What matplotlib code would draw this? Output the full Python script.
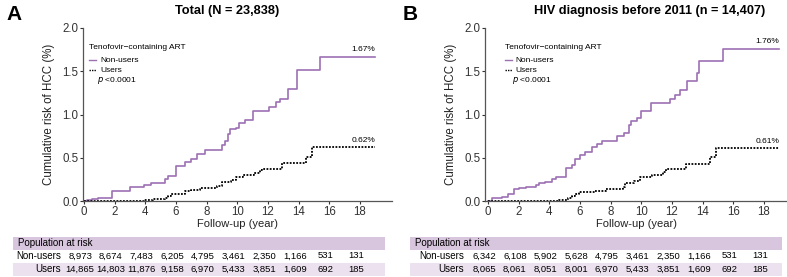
import numpy as np
import matplotlib.pyplot as plt

# ---- data ----
years_ticks = [0, 2, 4, 6, 8, 10, 12, 14, 16, 18]

# panel A: Total (N = 23,838)
a_non_t = [0, 0.17, 0.5, 0.9, 1.37, 1.8, 2.3, 3.0, 3.9, 4.4, 5.3, 5.5, 6.0, 6.6, 7.0, 7.4, 7.9, 9.0,
           9.2, 9.4, 9.5, 9.9, 10.1, 10.5, 11.0, 12.1, 12.5, 12.8, 13.3, 13.9, 15.4, 19.0]
a_non_y = [0, 0.01, 0.02, 0.03, 0.035, 0.11, 0.12, 0.165, 0.18, 0.21, 0.26, 0.29, 0.40, 0.45, 0.49, 0.54,
           0.59, 0.65, 0.69, 0.78, 0.83, 0.84, 0.90, 0.94, 1.04, 1.09, 1.14, 1.18, 1.29, 1.52, 1.67, 1.67]
a_use_t = [0, 2.0, 2.9, 3.9, 4.5, 5.3, 5.5, 5.7, 6.6, 7.0, 7.6, 8.7, 9.0, 9.6, 9.9, 10.4, 11.1, 11.5,
           11.6, 12.9, 14.5, 14.9, 19.0]
a_use_y = [0, 0.0, 0.005, 0.01, 0.02, 0.04, 0.06, 0.08, 0.11, 0.13, 0.15, 0.17, 0.22, 0.24, 0.28, 0.30,
           0.32, 0.36, 0.37, 0.44, 0.51, 0.62, 0.62]

# panel B: HIV diagnosis before 2011 (n = 14,407)
b_non_t = [0, 0.24, 0.9, 1.33, 1.7, 2.0, 2.5, 3.1, 3.3, 3.7, 4.2, 4.4, 5.1, 5.5, 5.7, 6.0, 6.3, 6.8, 7.1,
           7.4, 8.4, 8.85, 9.2, 9.3, 9.7, 10.0, 10.6, 11.9, 12.2, 12.5, 13.0, 13.6, 13.75, 15.3, 19.0]
b_non_y = [0, 0.03, 0.05, 0.08, 0.135, 0.15, 0.16, 0.18, 0.21, 0.22, 0.25, 0.28, 0.38, 0.42, 0.49, 0.53,
           0.57, 0.63, 0.66, 0.69, 0.75, 0.79, 0.88, 0.93, 0.96, 1.04, 1.135, 1.18, 1.23, 1.28, 1.39, 1.48,
           1.62, 1.76, 1.76]
b_use_t = [0, 4.2, 4.6, 5.2, 5.5, 5.7, 5.9, 7.0, 7.7, 8.8, 8.9, 9.5, 9.9, 10.7, 11.4, 11.6, 12.9, 14.5,
           14.9, 19.0]
b_use_y = [0, 0.0, 0.01, 0.03, 0.06, 0.08, 0.10, 0.12, 0.14, 0.165, 0.205, 0.235, 0.28, 0.30, 0.34,
           0.37, 0.43, 0.51, 0.61, 0.61]

a_risk_non = ['8,973', '8,674', '7,483', '6,205', '4,795', '3,461', '2,350', '1,166', '531', '131']
a_risk_use = ['14,865', '14,803', '11,876', '9,158', '6,970', '5,433', '3,851', '1,609', '692', '185']
b_risk_non = ['6,342', '6,108', '5,902', '5,628', '4,795', '3,461', '2,350', '1,166', '531', '131']
b_risk_use = ['8,065', '8,061', '8,051', '8,001', '6,970', '5,433', '3,851', '1,609', '692', '185']

purple = '#9d70b3'
gray = '#555555'
W, H = 787, 277


def px(x0, y0, x1, y1):
    # pixel box (top-left origin) -> figure rect
    return [x0 / W, 1 - y1 / H, (x1 - x0) / W, (y1 - y0) / H]


fig = plt.figure(figsize=(7.87, 2.77), dpi=100)
plt.rcParams['font.family'] = ['Liberation Sans', 'DejaVu Sans']
dots = (0, (1, 0.8))


def panel(box, xlim, non_t, non_y, use_t, use_y, non_lab, use_lab, title, letter, letter_x, title_x, lx):
    ax = fig.add_axes(px(*box))
    ax.step(non_t, non_y, where='post', color=purple, lw=1.2)
    ax.step(use_t, use_y, where='post', color='black', lw=1.3, linestyle=dots)
    ax.set_xlim(*xlim)
    ax.set_ylim(0, 2.0)
    ax.set_xticks(years_ticks)
    ax.set_yticks([0, 0.5, 1.0, 1.5, 2.0])
    ax.set_yticklabels(['0.0', '0.5', '1.0', '1.5', '2.0'])
    for s in ['top', 'right']:
        ax.spines[s].set_visible(False)
    for s in ['left', 'bottom']:
        ax.spines[s].set_color(gray)
        ax.spines[s].set_linewidth(0.9)
    ax.tick_params(colors='#333333', labelsize=8.3, length=2, width=0.8, pad=1.5)
    ax.set_xlabel('Follow-up (year)', fontsize=8, color='#222222', labelpad=1)
    ax.set_ylabel('Cumulative risk of HCC (%)', fontsize=8.3, color='#222222', labelpad=5)
    # legend block
    ax.text(lx, 0.89, 'Tenofovir\u2212containing ART', transform=ax.transAxes, fontsize=6, va='center')
    ax.plot([lx, lx + 0.022], [0.815, 0.815], transform=ax.transAxes, color=purple, lw=1)
    ax.text(lx + 0.035, 0.815, 'Non-users', transform=ax.transAxes, fontsize=6, va='center')
    ax.plot([lx, lx + 0.022], [0.757, 0.757], transform=ax.transAxes, color='black', lw=1, linestyle=dots)
    ax.text(lx + 0.035, 0.757, 'Users', transform=ax.transAxes, fontsize=6, va='center')
    ax.text(lx + 0.025, 0.694, r'$p$ <0.0001', transform=ax.transAxes, fontsize=6, va='center')
    ax.text(non_t[-1], non_y[-1] + 0.04, non_lab, fontsize=6, ha='right', va='bottom')
    ax.text(use_t[-1], use_y[-1] + 0.04, use_lab, fontsize=6, ha='right', va='bottom')
    fig.text(title_x / W, 1 - 11 / H, title, fontsize=9.2, fontweight='bold', ha='center', va='center')
    fig.text(letter_x / W, 1 - 15 / H, letter, fontsize=15, fontweight='bold', ha='left', va='center')
    return ax


def risk_table(ax, box, x1, lab_x, non, use):
    x0 = box[0]
    # same year scale as the plot above
    p0 = ax.transData.transform((0, 0))[0]
    p1 = ax.transData.transform((1, 0))[0]
    s = p1 - p0
    tax = fig.add_axes(px(x0, 237, x1, 276))
    tax.set_xlim((x0 - p0) / s, (x1 - p0) / s)
    tax.set_ylim(276, 237)
    tax.axis('off')
    tax.axhspan(237, 249.5, color='#d8c5de', lw=0)
    tax.axhspan(262.5, 276, color='#ece1ef', lw=0)
    tax.text((x0 + 5 - p0) / s, 243.5, 'Population at risk', fontsize=7, va='center', ha='left')
    tax.text((lab_x - p0) / s, 256, 'Non-users', fontsize=7, va='center', ha='right')
    tax.text((lab_x - p0) / s, 269.5, 'Users', fontsize=7, va='center', ha='right')
    for yr, n, u in zip(years_ticks, non, use):
        tax.text(yr - 0.25, 256, n, fontsize=6.8, va='center', ha='center')
        tax.text(yr - 0.25, 269.5, u, fontsize=6.8, va='center', ha='center')


ax_a = panel((83, 28, 392, 201), (-0.065, 20.1), a_non_t, a_non_y, a_use_t, a_use_y, '1.67%', '0.62%',
             'Total (N = 23,838)', 'A', 6, 227, 0.02)
ax_b = panel((485, 28, 787, 201), (-0.2, 19.5), b_non_t, b_non_y, b_use_t, b_use_y, '1.76%', '0.61%',
             'HIV diagnosis before 2011 (n = 14,407)', 'B', 403, 650, 0.066)

fig.canvas.draw()
risk_table(ax_a, (13, 237), 385, 61, a_risk_non, a_risk_use)
risk_table(ax_b, (410, 237), 782, 464, b_risk_non, b_risk_use)

fig.savefig('out.png', dpi=100)
